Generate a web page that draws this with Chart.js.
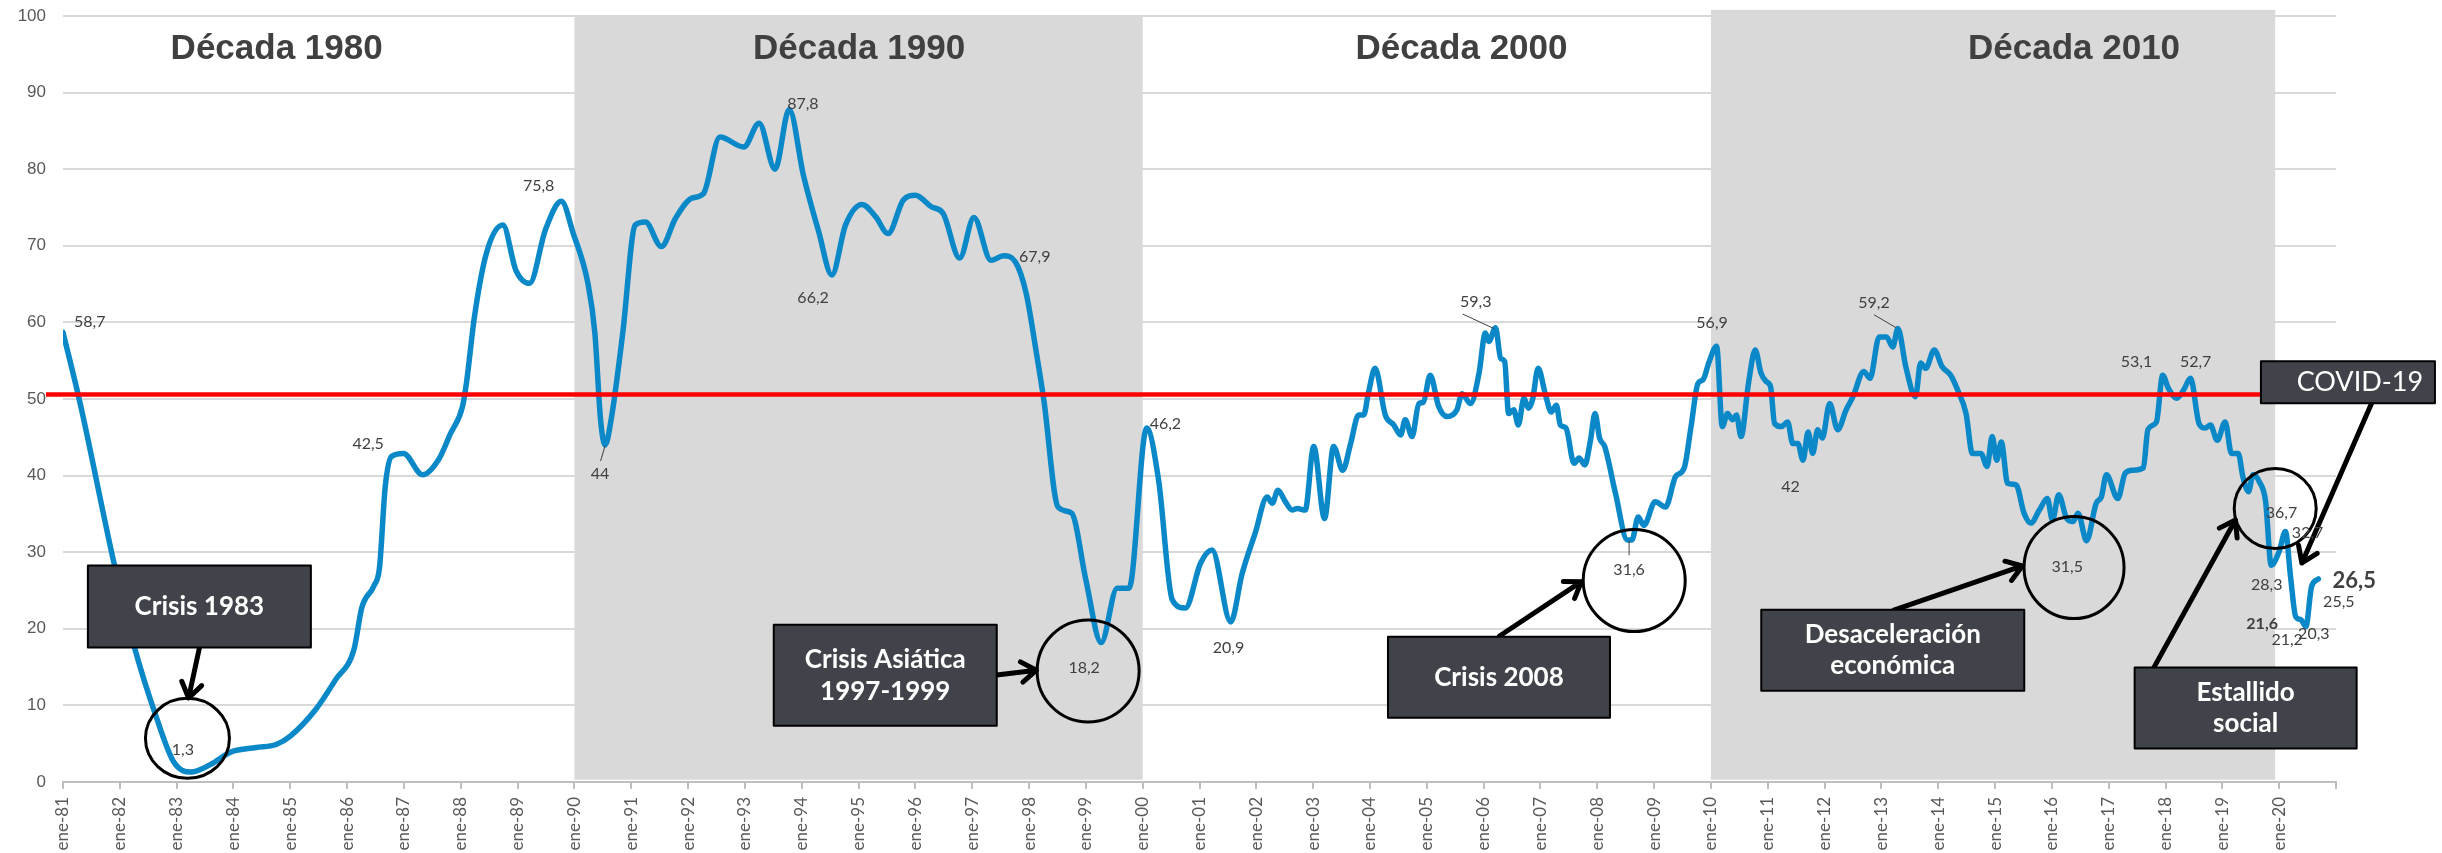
<!DOCTYPE html>
<html lang="es">
<head>
<meta charset="utf-8">
<title>IPEC 1981-2020</title>
<script src="https://cdn.jsdelivr.net/npm/chart.js@4.4.1/dist/chart.umd.min.js"></script>
<style>
  html, body { margin: 0; padding: 0; background: #fff; }
  #wrap { position: relative; width: 2442px; height: 853px; }
</style>
</head>
<body>
<div id="wrap"><canvas id="chart"></canvas></div>
<script>
// [fecha en años, valor del índice]
const decada80 = [
  [1981.00, 58.7], [1981.30, 49.5], [1981.90, 28.5], [1982.25, 17.8], [1982.65, 8.3],
  [1982.95, 2.6], [1983.25, 1.3], [1983.60, 2.3], [1983.95, 3.9], [1984.40, 4.5],
  [1984.75, 4.9], [1985.00, 6.0], [1985.45, 9.5], [1985.80, 13.4], [1986.12, 17.3],
  [1986.26, 22.8], [1986.47, 25.6], [1986.57, 28.0], [1986.67, 38.5], [1986.78, 42.5],
  [1986.99, 42.9], [1987.33, 40.1], [1987.61, 42.1], [1987.82, 45.5], [1988.03, 49.0],
  [1988.10, 52.1], [1988.24, 60.7], [1988.45, 69.0], [1988.74, 72.7], [1988.97, 66.8],
  [1989.21, 65.1], [1989.49, 72.1], [1989.77, 75.8], [1989.98, 71.6]
];
const decada90 = [
  [1990.24, 65.0], [1990.36, 58.6], [1990.46, 47.3], [1990.54, 44.0], [1990.65, 47.5],
  [1990.85, 58.6], [1991.07, 72.7], [1991.25, 73.1], [1991.53, 69.9], [1991.78, 73.6],
  [1992.06, 76.2], [1992.27, 76.8], [1992.56, 84.2], [1992.98, 82.9], [1993.25, 86.0],
  [1993.53, 80.0], [1993.78, 87.8], [1994.03, 79.2], [1994.30, 71.8], [1994.53, 66.2],
  [1994.77, 72.7], [1995.06, 75.4], [1995.30, 73.8], [1995.52, 71.6], [1995.79, 76.0],
  [1996.00, 76.6], [1996.28, 75.1], [1996.49, 74.2], [1996.78, 68.4], [1997.03, 73.7],
  [1997.33, 68.1], [1997.55, 68.7], [1997.76, 67.9], [1997.95, 63.8], [1998.13, 56.0],
  [1998.26, 49.9], [1998.51, 35.9], [1998.75, 35.1], [1999.00, 26.4], [1999.27, 18.2],
  [1999.55, 25.3], [1999.76, 25.3]
];
const decada00 = [
  [2000.07, 46.2], [2000.28, 39.4], [2000.52, 23.8], [2000.75, 22.7], [2001.02, 28.6],
  [2001.22, 30.3], [2001.55, 20.9], [2001.75, 27.2], [2001.98, 32.5], [2002.19, 37.2],
  [2002.28, 36.4], [2002.38, 38.1], [2002.51, 36.6], [2002.63, 35.5], [2002.72, 35.7],
  [2002.86, 35.5], [2003.01, 43.8], [2003.20, 34.4], [2003.36, 43.8], [2003.52, 40.7],
  [2003.66, 44.2], [2003.80, 47.9], [2003.89, 47.9], [2003.97, 50.7], [2004.09, 54.0],
  [2004.27, 47.9], [2004.42, 46.6], [2004.54, 45.3], [2004.62, 47.3], [2004.74, 45.1],
  [2004.86, 49.4], [2004.94, 49.6], [2005.06, 53.1], [2005.21, 49.0], [2005.36, 47.7],
  [2005.53, 48.6], [2005.62, 50.7], [2005.77, 49.4], [2005.92, 53.4], [2006.03, 58.6],
  [2006.09, 57.5], [2006.21, 59.3], [2006.30, 55.3], [2006.37, 54.9], [2006.44, 48.1],
  [2006.53, 48.6], [2006.61, 46.6], [2006.71, 50.1], [2006.79, 48.8], [2006.86, 49.9],
  [2006.96, 54.0], [2007.09, 50.5], [2007.19, 48.3], [2007.28, 49.2], [2007.35, 46.6],
  [2007.45, 46.2], [2007.59, 41.6], [2007.68, 42.3], [2007.78, 41.4], [2007.88, 44.6],
  [2007.96, 48.1], [2008.04, 44.9], [2008.13, 43.8], [2008.32, 37.7], [2008.53, 31.6],
  [2008.61, 31.6], [2008.72, 34.6], [2008.82, 33.5], [2009.02, 36.6], [2009.20, 35.9],
  [2009.38, 39.9], [2009.53, 41.0], [2009.65, 46.4], [2009.77, 52.0], [2009.86, 52.5],
  [2009.97, 54.9]
];
const decada10 = [
  [2010.10, 56.9], [2010.20, 46.4], [2010.29, 48.1], [2010.38, 47.3], [2010.45, 47.9],
  [2010.53, 45.1], [2010.66, 52.0], [2010.78, 56.4], [2010.88, 53.4], [2010.97, 52.3],
  [2011.05, 51.6], [2011.12, 46.8], [2011.24, 46.4], [2011.35, 47.0], [2011.44, 44.2],
  [2011.53, 44.2], [2011.62, 42.0], [2011.71, 45.7], [2011.79, 42.9], [2011.88, 46.0],
  [2011.96, 44.9], [2012.09, 49.4], [2012.23, 46.0], [2012.38, 48.6], [2012.50, 50.3],
  [2012.69, 53.6], [2012.80, 52.7], [2012.96, 58.1], [2013.09, 58.1], [2013.20, 56.8],
  [2013.29, 59.2], [2013.43, 54.2], [2013.60, 50.3], [2013.69, 54.7], [2013.78, 54.0],
  [2013.93, 56.4], [2014.07, 54.2], [2014.22, 53.1], [2014.34, 51.2], [2014.49, 48.1],
  [2014.60, 42.9], [2014.75, 42.9], [2014.86, 41.2], [2014.95, 45.1], [2015.03, 42.0],
  [2015.11, 44.4], [2015.22, 39.0], [2015.37, 38.8], [2015.51, 35.1], [2015.63, 33.8],
  [2015.78, 35.5], [2015.92, 37.0], [2016.01, 34.2], [2016.12, 37.5], [2016.26, 34.4],
  [2016.37, 34.0], [2016.46, 35.1], [2016.61, 31.5], [2016.78, 36.4], [2016.87, 37.2],
  [2016.96, 40.1], [2017.16, 37.0], [2017.29, 40.3], [2017.42, 40.7], [2017.61, 41.0],
  [2017.69, 46.0], [2017.84, 47.0], [2017.95, 53.1], [2018.05, 51.4], [2018.20, 50.1],
  [2018.32, 51.2], [2018.44, 52.7], [2018.59, 46.8], [2018.70, 46.2], [2018.79, 46.6],
  [2018.91, 44.6], [2019.05, 47.0], [2019.16, 42.9], [2019.28, 42.9], [2019.36, 39.9],
  [2019.46, 37.9], [2019.54, 40.1], [2019.65, 39.2], [2019.76, 36.7], [2019.86, 28.3]
];
const decada20 = [
  [2020.00, 30.1], [2020.11, 32.7], [2020.20, 26.8], [2020.29, 21.6], [2020.38, 21.2],
  [2020.47, 20.3], [2020.57, 25.5], [2020.69, 26.5]
];

const promedio = 50.6;

const tickLabels = [
  'ene-81', 'ene-82', 'ene-83', 'ene-84', 'ene-85', 'ene-86', 'ene-87', 'ene-88', 'ene-89', 'ene-90',
  'ene-91', 'ene-92', 'ene-93', 'ene-94', 'ene-95', 'ene-96', 'ene-97', 'ene-98', 'ene-99', 'ene-00',
  'ene-01', 'ene-02', 'ene-03', 'ene-04', 'ene-05', 'ene-06', 'ene-07', 'ene-08', 'ene-09', 'ene-10',
  'ene-11', 'ene-12', 'ene-13', 'ene-14', 'ene-15', 'ene-16', 'ene-17', 'ene-18', 'ene-19', 'ene-20'
];

// anotaciones, en coordenadas de los ejes (año, valor)
const bandas = [[1990, 2000, 100], [2010, 2019.93, 100.8]];
const titulosDecada = [['Década 1980', 1984.76], ['Década 1990', 1995.01], ['Década 2000', 2005.61], ['Década 2010', 2016.39]];
const cajas = [
  { texto: ['Crisis 1983'], x: 1983.40, y: 22.9, w: 223, h: 82 },
  { texto: ['Crisis Asiática', '1997-1999'], x: 1995.47, y: 13.92, w: 223, h: 101 },
  { texto: ['Crisis 2008'], x: 2006.27, y: 13.66, w: 222, h: 81 },
  { texto: ['Desaceleración', 'económica'], x: 2013.20, y: 17.19, w: 263, h: 81 },
  { texto: ['Estallido', 'social'], x: 2019.41, y: 9.66, w: 222, h: 81 },
  { texto: ['COVID-19'], x: 2021.21, y: 52.2, w: 174, h: 42, tx: 2021.42, fuente: '27px Lato' }
];
const circulos = [
  [1983.19, 5.7, 42, 40], [1999.04, 14.5, 51, 51], [2008.65, 26.3, 51, 51],
  [2016.39, 28.0, 50, 51], [2019.93, 35.7, 41, 40]
];
const flechas = [
  [1983.40, 17.5, 1983.21, 10.97], [1997.43, 13.97, 1998.13, 14.6],
  [2006.28, 19.06, 2007.72, 26.15], [2013.22, 22.45, 2015.48, 28.2],
  [2017.77, 14.6, 2019.23, 34.2], [2021.63, 49.5, 2020.40, 28.6]
];
const etiquetas = [
  ['58,7', 1981.47, 60.1], ['75,8', 1989.37, 77.85], ['42,5', 1986.37, 44.2], ['44', 1990.45, 40.2],
  ['1,3', 1983.11, 4.2], ['87,8', 1994.02, 88.5], ['66,2', 1994.20, 63.2], ['67,9', 1998.10, 68.6],
  ['18,2', 1998.97, 14.84], ['46,2', 2000.40, 46.8], ['20,9', 2001.51, 17.5], ['59,3', 2005.86, 62.7],
  ['31,6', 2008.56, 27.7], ['56,9', 2010.02, 59.9], ['42', 2011.40, 38.55], ['59,2', 2012.87, 62.6],
  ['31,5', 2016.27, 28.1], ['53,1', 2017.49, 54.8], ['52,7', 2018.53, 54.8], ['36,7', 2020.04, 35.1],
  ['32,7', 2020.50, 32.5], ['28,3', 2019.78, 25.8], ['21,6', 2019.70, 20.7, 'bold 16px Lato'],
  ['21,2', 2020.14, 18.5], ['20,3', 2020.61, 19.4], ['25,5', 2021.05, 23.5],
  ['26,5', 2021.32, 26.3, 'bold 22px Lato']
];
const guias = [
  [1990.54, 43.9, 1990.46, 41.9], [2005.63, 61.1, 2006.18, 59.2],
  [2008.56, 31.5, 2008.56, 29.6], [2012.87, 61.0, 2013.26, 59.3]
];

const serie = [...decada80, ...decada90, ...decada00, ...decada10, ...decada20]
  .map(([x, y]) => ({ x, y }));

function flecha(ctx, x1, y1, x2, y2) {
  const a = Math.atan2(y2 - y1, x2 - x1), L = 18;
  ctx.beginPath();
  ctx.moveTo(x1, y1);
  ctx.lineTo(x2, y2);
  ctx.moveTo(x2 - L * Math.cos(a - 0.6), y2 - L * Math.sin(a - 0.6));
  ctx.lineTo(x2, y2);
  ctx.lineTo(x2 - L * Math.cos(a + 0.6), y2 - L * Math.sin(a + 0.6));
  ctx.stroke();
}

const anotaciones = {
  id: 'anotaciones',
  beforeDatasetsDraw(chart) {
    const { ctx, scales: { x, y } } = chart;
    ctx.save();
    ctx.fillStyle = '#D9D9D9';
    bandas.forEach(([a, b, top]) => {
      const x1 = x.getPixelForValue(a), x2 = x.getPixelForValue(b);
      const y1 = y.getPixelForValue(top), y2 = y.getPixelForValue(0.3);
      ctx.fillRect(x1, y1, x2 - x1, y2 - y1);
    });
    ctx.restore();
  },
  afterDatasetsDraw(chart) {
    const { ctx, scales: { x, y } } = chart;
    const X = v => x.getPixelForValue(v);
    const Y = v => y.getPixelForValue(v);
    ctx.save();

    // circulos
    ctx.strokeStyle = '#000';
    ctx.lineWidth = 3;
    circulos.forEach(([cx, cy, rx, ry]) => {
      ctx.beginPath();
      ctx.ellipse(X(cx), Y(cy), rx, ry, 0, 0, Math.PI * 2);
      ctx.stroke();
    });

    // flechas
    ctx.lineWidth = 5;
    ctx.lineCap = 'round';
    ctx.lineJoin = 'round';
    flechas.forEach(([x1, y1, x2, y2]) => flecha(ctx, X(x1), Y(y1), X(x2), Y(y2)));

    // cajas
    cajas.forEach(c => {
      const cx = X(c.x), cy = Y(c.y);
      ctx.fillStyle = '#404349';
      ctx.fillRect(cx - c.w / 2, cy - c.h / 2, c.w, c.h);
      ctx.lineWidth = 2;
      ctx.strokeStyle = '#000';
      ctx.strokeRect(cx - c.w / 2, cy - c.h / 2, c.w, c.h);
      ctx.fillStyle = '#fff';
      ctx.font = c.fuente || 'bold 26px Lato';
      ctx.textAlign = 'center';
      ctx.textBaseline = 'middle';
      const tx = c.tx ? X(c.tx) : cx;
      const n = c.texto.length;
      c.texto.forEach((t, i) => ctx.fillText(t, tx, cy + (i - (n - 1) / 2) * 31.5));
    });

    // guias de etiquetas
    ctx.strokeStyle = '#404040';
    ctx.lineWidth = 1;
    ctx.lineCap = 'butt';
    guias.forEach(([x1, y1, x2, y2]) => {
      ctx.beginPath();
      ctx.moveTo(X(x1), Y(y1));
      ctx.lineTo(X(x2), Y(y2));
      ctx.stroke();
    });

    // etiquetas de datos
    ctx.fillStyle = '#404040';
    ctx.textAlign = 'center';
    ctx.textBaseline = 'middle';
    etiquetas.forEach(([t, ex, ey, f]) => {
      ctx.font = f || '16px Lato';
      ctx.fillText(t, X(ex), Y(ey));
    });

    // titulos de decada
    ctx.font = 'bold 35px "Liberation Sans", Arial, sans-serif';
    ctx.textBaseline = 'alphabetic';
    titulosDecada.forEach(([t, tx]) => ctx.fillText(t, X(tx), Y(94.4)));

    ctx.restore();
  }
};

new Chart(document.getElementById('chart'), {
  type: 'line',
  data: {
    datasets: [
      {
        label: 'Promedio',
        data: [{ x: 1980.7, y: promedio }, { x: 2019.9, y: promedio }],
        borderColor: '#FF0000',
        borderWidth: 4.5,
        pointRadius: 0,
        tension: 0,
        clip: false
      },
      {
        label: 'IPEC',
        data: serie,
        borderColor: '#0A88C8',
        borderWidth: 5.5,
        borderCapStyle: 'round',
        borderJoinStyle: 'round',
        pointRadius: 0,
        cubicInterpolationMode: 'monotone',
        fill: false
      }
    ]
  },
  options: {
    responsive: true,
    maintainAspectRatio: false,
    devicePixelRatio: 1,
    animation: false,
    events: [],
    layout: { padding: { top: 16, right: 106, left: 0, bottom: 0 } },
    scales: {
      x: {
        type: 'linear',
        min: 1981,
        max: 2021,
        afterFit: s => { s.height = 71; s.paddingLeft = 0; s.paddingRight = 0; },
        grid: { drawOnChartArea: false, drawTicks: true, tickLength: 7, color: '#BFBFBF', lineWidth: 2 },
        border: { display: true, color: '#BFBFBF', width: 2 },
        ticks: {
          stepSize: 1,
          autoSkip: false,
          maxRotation: 90,
          minRotation: 90,
          padding: 8,
          color: '#595959',
          font: { family: 'Lato', size: 17 },
          callback: v => tickLabels[Math.round(v) - 1981] || ''
        }
      },
      y: {
        min: 0,
        max: 100,
        afterFit: s => { s.width = 63; s.paddingTop = 0; s.paddingBottom = 0; },
        grid: { color: '#D9D9D9', lineWidth: 2, drawTicks: false },
        border: { display: false },
        ticks: {
          stepSize: 10,
          padding: 17,
          color: '#595959',
          font: { family: '"Liberation Sans", Arial, sans-serif', size: 17 }
        }
      }
    },
    plugins: {
      legend: { display: false },
      tooltip: { enabled: false }
    }
  },
  plugins: [anotaciones]
});
</script>
</body>
</html>
